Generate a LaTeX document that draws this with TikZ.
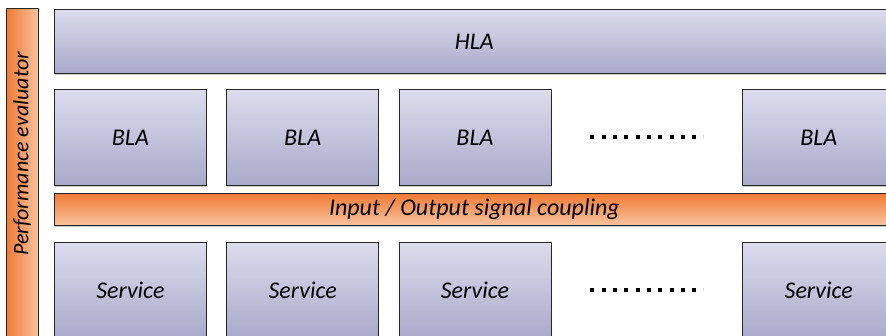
\documentclass[tikz,border=0pt]{standalone}
\usepackage{fontspec}
\setmainfont{Carlito}
\usetikzlibrary{positioning,shadows}

\definecolor{lavtop}{HTML}{DCDCEC}
\definecolor{lavbot}{HTML}{A9A9CB}
\definecolor{orgdark}{HTML}{F07B35}
\definecolor{orglight}{HTML}{F9C29F}

\tikzset{
  layer/.style={draw=black!85, line width=0.8pt, top color=lavtop, bottom color=lavbot,
    font=\fontsize{24}{28}\selectfont\itshape, inner sep=0pt,
    drop shadow={shadow xshift=0pt, shadow yshift=-1.5pt, fill=black!20, opacity=1}},
  unit/.style={layer, minimum width=152pt, minimum height=96pt},
  bus/.style={layer, top color=orgdark, bottom color=orglight},
  dotline/.style={line width=4pt, dash pattern=on 4pt off 7.3pt}
}

\begin{document}
\begin{tikzpicture}[x=1pt, y=-1pt, node distance=19.5pt]
\useasboundingbox (0,0) rectangle (886,335);
\clip (0,0) rectangle (886,335);
% evaluator bar on the left
\node[bus, left color=orgdark, right color=orglight, minimum width=32pt, minimum height=340pt, anchor=north west] (perf) at (6,8) {};
\node[rotate=90, font=\fontsize{22}{26}\selectfont\itshape] (perftext) at (22,154) {Performance evaluator};
% top level
\node[layer, minimum width=840pt, minimum height=64pt, anchor=north west] (hla) at (54,9) {HLA};
% base level agents
\node[unit, anchor=north west] (b1) at (54,89) {BLA};
\node[unit] (b2) [right=of b1] {BLA};
\node[unit] (b3) [right=of b2] {BLA};
\node[unit] (b4) [right=191pt of b3] {BLA};
% coupling
\node[bus, minimum width=840pt, minimum height=32pt, anchor=north west] (io) at (54,193) {Input / Output signal coupling};
% services
\node[unit] (s1) [below=56pt of b1] {Service};
\node[unit] (s2) [right=of s1] {Service};
\node[unit] (s3) [right=of s2] {Service};
\node[unit] (s4) [right=191pt of s3] {Service};
\draw[dotline] ([xshift=39pt]b3.east) -- ([xshift=-39pt]b4.west);
\draw[dotline] ([xshift=39pt]s3.east) -- ([xshift=-39pt]s4.west);
\end{tikzpicture}
\end{document}
